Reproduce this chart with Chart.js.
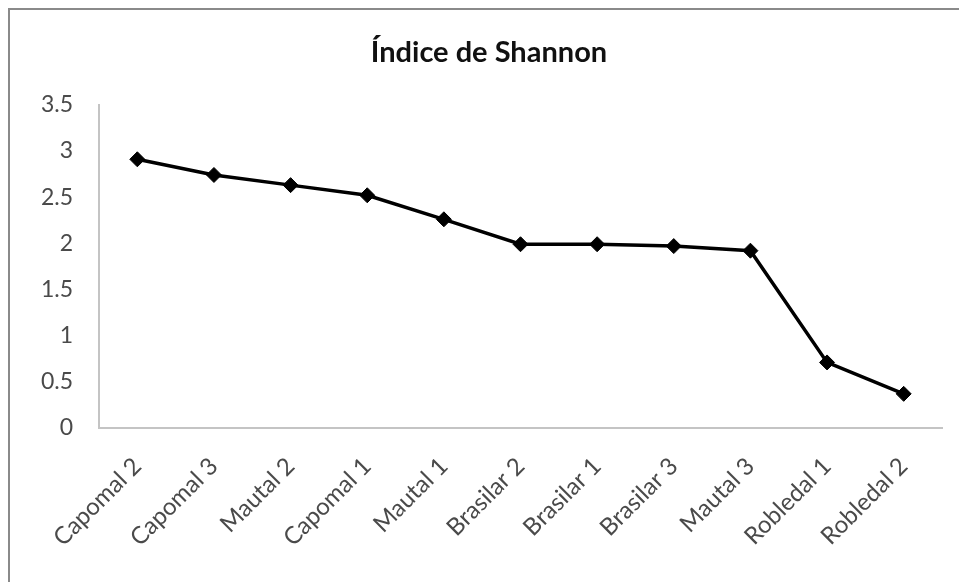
<!DOCTYPE html>
<html>
<head>
<meta charset="utf-8">
<script src="https://cdn.jsdelivr.net/npm/chart.js@4"></script>
<style>
  html, body { margin: 0; padding: 0; background: #fff; }
  #frame {
    position: absolute; left: 8px; top: 8px; width: 960px; height: 580px;
    border-left: 2px solid #8a8a8a; border-top: 2px solid #8a8a8a;
  }
  #wrap { position: absolute; left: 0; top: 0; width: 959px; height: 582px; }
</style>
</head>
<body>
<div id="frame"></div>
<div id="wrap"><canvas id="shannonChart"></canvas></div>
<script>
const sites = ["Capomal 2", "Capomal 3", "Mautal 2", "Capomal 1", "Mautal 1", "Brasilar 2",
  "Brasilar 1", "Brasilar 3", "Mautal 3", "Robledal 1", "Robledal 2"];
const shannonValues = [2.91, 2.74, 2.63, 2.52, 2.26, 1.99, 1.99, 1.97, 1.92, 0.71, 0.37];
const yTicks = [0, 0.5, 1, 1.5, 2, 2.5, 3, 3.5];

Chart.defaults.font.family = "Lato, 'Open Sans', sans-serif";

new Chart(document.getElementById("shannonChart"), {
  type: "line",
  data: {
    labels: sites,
    datasets: [{
      label: "Índice de Shannon",
      data: shannonValues,
      borderColor: "#000",
      borderWidth: 3.5,
      backgroundColor: "#000",
      pointStyle: "rectRot",
      pointRadius: 7.5,
      pointBorderWidth: 1,
      pointBackgroundColor: "#000",
      pointBorderColor: "#000",
      tension: 0
    }]
  },
  options: {
    responsive: true,
    maintainAspectRatio: false,
    animation: false,
    layout: { padding: { left: 36, right: 17, top: 0, bottom: 0 } },
    plugins: {
      legend: { display: false },
      tooltip: { enabled: false },
      title: {
        display: true,
        text: "Índice de Shannon",
        color: "#111",
        font: { size: 29, weight: "bold" },
        lineHeight: 1.2,
        padding: { top: 35, bottom: 35 }
      }
    },
    scales: {
      x: {
        offset: true,
        grid: { display: false, drawTicks: false },
        border: { display: true, color: "#c4c4c4", width: 2 },
        ticks: {
          color: "#4a4a4a",
          font: { size: 24 },
          minRotation: 45,
          maxRotation: 45,
          padding: 24,
          autoSkip: false
        },
        afterFit: (scale) => { scale.height = 154; }
      },
      y: {
        min: 0,
        max: 3.5,
        afterBuildTicks: (scale) => { scale.ticks = yTicks.map(v => ({ value: v })); },
        grid: { display: false, drawTicks: false },
        border: { display: true, color: "#c4c4c4", width: 2 },
        ticks: {
          color: "#4a4a4a",
          font: { size: 23 },
          padding: 26,
          callback: (value) => String(value)
        },
        afterFit: (scale) => { scale.width = 63; }
      }
    }
  }
});
</script>
</body>
</html>
